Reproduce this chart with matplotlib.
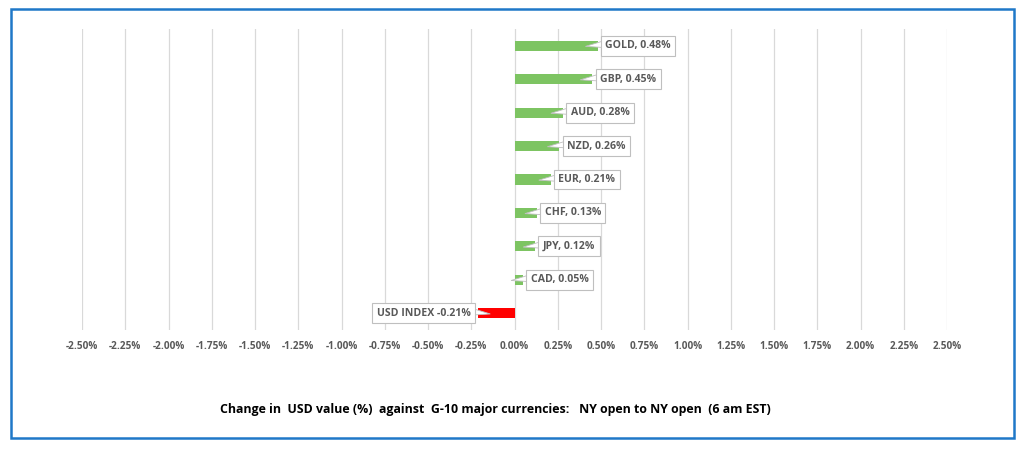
import matplotlib
matplotlib.use("Agg")
import matplotlib.pyplot as plt
from matplotlib.patches import Rectangle, Polygon
from matplotlib.ticker import FuncFormatter

categories = ["USD INDEX", "CAD", "JPY", "CHF", "EUR", "NZD", "AUD", "GBP", "GOLD"]
values = [-0.21, 0.05, 0.12, 0.13, 0.21, 0.26, 0.28, 0.45, 0.48]
labels = ["USD INDEX -0.21%", "CAD, 0.05%", "JPY, 0.12%", "CHF, 0.13%", "EUR, 0.21%",
          "NZD, 0.26%", "AUD, 0.28%", "GBP, 0.45%", "GOLD, 0.48%"]
ticks = [-2.5 + 0.25 * i for i in range(21)]
title = "Change in  USD value (%)  against  G-10 major currencies:   NY open to NY open  (6 am EST)"

plt.rcParams['font.family'] = ['Open Sans', 'DejaVu Sans']

fig = plt.figure(figsize=(10.24, 4.51), dpi=100)
fig.patches.append(Rectangle((11/1024, 1-438/451), (1014-11)/1024, (438-9)/451,
                             transform=fig.transFigure, fill=False, ec="#1F78C8", lw=1.8))

ax = fig.add_axes([82/1024, 1-330/451, (947-82)/1024, (330-29)/451])
colors = ["#FF0000" if v < 0 else "#7DC462" for v in values]
ypos = list(range(len(categories)))
ax.barh(ypos, values, height=0.3, color=colors, zorder=2)
ax.set_xlim(-2.5, 2.5)
ax.set_ylim(-0.5, 8.5)
ax.set_xticks(ticks)
ax.xaxis.set_major_formatter(FuncFormatter(lambda x, p: f"{x:.2f}%"))
ax.tick_params(axis='x', length=0, labelsize=7.2, labelcolor="#595959", pad=8)
for t in ax.get_xticklabels():
    t.set_fontweight("bold")
ax.set_yticks([])
ax.grid(axis='x', color="#D9D9D9", lw=0.9, zorder=0)
for s in ax.spines.values():
    s.set_visible(False)

for y, v, lab in zip(ypos, values, labels):
    sgn = 1 if v >= 0 else -1
    ax.annotate(lab, xy=(v, y), xytext=(sgn * 5.5, 0), textcoords="offset points",
                ha="left" if sgn > 0 else "right", va="center", fontsize=7.6,
                fontweight="bold", color="#595959", zorder=4,
                bbox=dict(boxstyle="square,pad=0.42", fc="white", ec="#BFBFBF", lw=0.8))
    # small callout pointer
    base = v + sgn * 0.025
    tri = Polygon([(v - sgn * 0.07, y - 0.02), (base, y + 0.13), (base, y - 0.05)],
                  closed=True, fc="white", ec="#BFBFBF", lw=0.6, zorder=3)
    ax.add_patch(tri)

fig.text(495/1024, 1-410/451, title, ha="center", va="center", fontsize=8.9,
         fontweight="bold", color="black")

fig.savefig("out.png", dpi=100)
